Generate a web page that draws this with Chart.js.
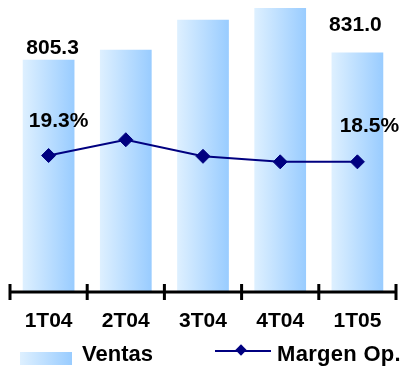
<!DOCTYPE html>
<html>
<head>
<meta charset="utf-8">
<script src="https://cdn.jsdelivr.net/npm/chart.js@4/dist/chart.umd.min.js"></script>
<style>
  html, body { margin:0; padding:0; background:#fff; }
  #wrap { position:relative; width:404px; height:368px; }
  #legend { position:absolute; left:0; top:0; width:404px; height:368px; pointer-events:none;
            font:bold 22px "Liberation Sans", Arial, sans-serif; color:#000; }
  #legend .box { position:absolute; left:20px; top:352px; width:52px; height:13px;
                 background:linear-gradient(to right, #def0ff, #99ccff); }
  #legend .txt { position:absolute; line-height:22px; white-space:nowrap; }
  #legend .ln { position:absolute; left:215px; top:350px; width:56px; height:2px; background:#000080; }
  #legend .dm { position:absolute; left:237px; top:346px; width:8px; height:8px; background:#000080; transform:rotate(45deg); }
</style>
</head>
<body>
<div id="wrap">
  <canvas id="chart" width="404" height="368"></canvas>
  <div id="legend">
    <div class="box"></div><div class="txt" style="left:82px;top:343px">Ventas</div>
    <div class="ln"></div><div class="dm"></div><div class="txt" style="left:277px;top:343px;letter-spacing:0.3px">Margen Op.</div>
  </div>
</div>
<script>
// ===== DATA =====
const quarters = ['1T04', '2T04', '3T04', '4T04', '1T05'];
const ventas = [805.3, 840, 944, 986, 831.0];
const margenOp = [19.3, 21.3, 19.2, 18.5, 18.5];
const shownLabels = [0, 4];   // only first and last quarter carry value labels

const FONT = '"Liberation Sans", Arial, sans-serif';

// horizontal gradient per bar
function barFill(ctx) {
  const chart = ctx.chart;
  if (!chart.chartArea || ctx.dataIndex === undefined) return '#bbddff';
  const xs = chart.scales.x;
  const cx = xs.getPixelForValue(ctx.dataIndex);
  const half = xs.width / quarters.length * 0.67 / 2;
  const g = chart.ctx.createLinearGradient(cx - half, 0, cx + half, 0);
  g.addColorStop(0, '#def0ff');
  g.addColorStop(1, '#99ccff');
  return g;
}

// axis line with ticks crossing it at category boundaries
const axisPlugin = {
  id: 'axisLine',
  afterDatasetsDraw(chart) {
    const {ctx, scales:{x}, chartArea} = chart;
    const y = chartArea.bottom;
    ctx.save();
    ctx.strokeStyle = '#000';
    ctx.lineWidth = 3;
    ctx.beginPath();
    ctx.moveTo(x.getPixelForValue(-0.5), y);
    ctx.lineTo(x.getPixelForValue(quarters.length - 0.5), y);
    for (let i = 0; i <= quarters.length; i++) {
      const px = x.getPixelForValue(i - 0.5);
      ctx.moveTo(px, y - 8);
      ctx.lineTo(px, y + 8);
    }
    ctx.stroke();
    ctx.restore();
  }
};

// value labels
const valueLabels = {
  id: 'valueLabels',
  afterDatasetsDraw(chart) {
    const {ctx} = chart;
    const pts = chart.getDatasetMeta(0).data;
    const bars = chart.getDatasetMeta(1).data;
    const barOff = {0: [4, -12], 4: [-2, -27]};
    const ptOff = {0: [10, -34], 4: [12, -36]};
    ctx.save();
    ctx.fillStyle = '#000';
    ctx.font = 'bold 21px ' + FONT;
    ctx.textAlign = 'center';
    ctx.textBaseline = 'middle';
    shownLabels.forEach(i => {
      const b = bars[i], p = pts[i];
      ctx.fillText(ventas[i].toFixed(1), b.x + barOff[i][0], b.y + barOff[i][1]);
      ctx.fillText(margenOp[i].toFixed(1) + '%', p.x + ptOff[i][0], p.y + ptOff[i][1]);
    });
    ctx.restore();
  }
};

new Chart(document.getElementById('chart'), {
  type: 'bar',
  data: {
    labels: quarters,
    datasets: [
      {type:'line', label:'Margen Op.', data:margenOp, yAxisID:'y1', order:1,
       borderColor:'#000080', borderWidth:2, backgroundColor:'#000080',
       pointStyle:'rectRot', pointRadius:7, pointBorderWidth:1, pointBorderColor:'#000080', tension:0},
      {type:'bar', label:'Ventas', data:ventas, yAxisID:'y', order:2,
       backgroundColor:barFill, borderWidth:0, categoryPercentage:1, barPercentage:0.67}
    ]
  },
  options: {
    responsive:false, animation:false,
    layout:{padding:{left:10, right:4, top:0, bottom:0}},
    plugins:{legend:{display:false}, tooltip:{enabled:false}},
    scales:{
      x:{
        grid:{display:false, drawTicks:false}, border:{display:false},
        ticks:{color:'#000', font:{family:FONT, size:21, weight:'bold'}, padding:17},
        afterFit: s => { s.height = 76; }
      },
      y:{display:false, min:0, max:985},
      y1:{display:false, position:'right', min:2, max:38}
    }
  },
  plugins:[axisPlugin, valueLabels]
});
</script>
</body>
</html>
